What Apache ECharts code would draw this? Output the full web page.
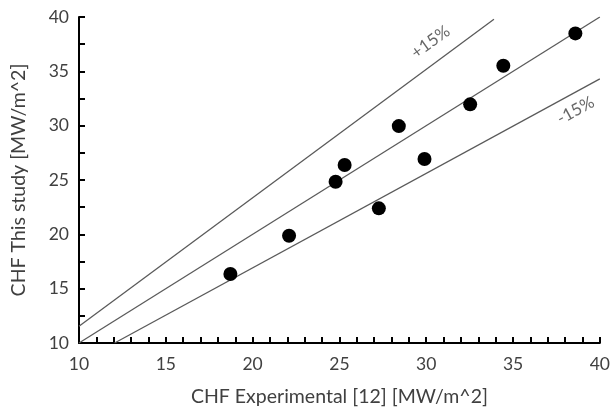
<!DOCTYPE html>
<html><head><meta charset="utf-8">
<script src="https://cdn.jsdelivr.net/npm/echarts@6/dist/echarts.min.js"></script>
<style>html,body{margin:0;padding:0;background:#fff}#c{width:613px;height:415px}</style>
</head><body><div id="c"></div>
<script>
const expX = [18.72, 22.1, 24.78, 25.3, 27.27, 28.42, 29.9, 32.53, 34.44, 38.59];
const studyY = [16.35, 19.87, 24.84, 26.38, 22.39, 29.96, 26.93, 31.96, 35.51, 38.49];
const lineEqual = [[10, 10], [40, 40]];
const linePlus = [[10, 11.55], [33.9, 39.8]];
const lineMinus = [[12.05, 10], [40, 34.3]];
const labelPlus = [[30.25, 37.7]];
const labelMinus = [[38.6, 31.4]];
const xTitle = 'CHF Experimental [12] [MW/m^2]';
const yTitle = 'CHF This study [MW/m^2]';

const font = 'Lato, "Open Sans", sans-serif';
const gray = '#404040';
const chart = echarts.init(document.getElementById('c'), null, {renderer: 'canvas'});
const lineStyle = {color: '#5a5a5a', width: 1.3};
function refLine(d) {
  return {type: 'line', data: d, symbol: 'none', lineStyle: lineStyle, silent: true, z: 2, animation: false};
}
function textMark(d, txt, rot) {
  return {type: 'scatter', data: d, symbolSize: 0, silent: true, animation: false,
    label: {show: true, position: 'inside', formatter: txt, rotate: rot, color: '#404040', fontSize: 17, fontFamily: font}};
}
const tickStyle = {color: '#000', width: 2};
chart.setOption({
  animation: false,
  grid: {left: 79, right: 12, top: 17, bottom: 72},
  xAxis: {
    type: 'value', min: 10, max: 40, interval: 5,
    name: xTitle, nameLocation: 'middle', nameGap: 44,
    nameTextStyle: {color: gray, fontSize: 19.5, fontFamily: font},
    axisLine: {show: true, onZero: false, lineStyle: {color: '#000', width: 2}},
    axisTick: {show: true, inside: true, length: 6, lineStyle: tickStyle},
    minorTick: {show: true, splitNumber: 5, length: 6, lineStyle: tickStyle},
    axisLabel: {color: gray, fontSize: 17.5, fontFamily: font, margin: 12},
    splitLine: {show: false}, minorSplitLine: {show: false}
  },
  yAxis: {
    type: 'value', min: 10, max: 40, interval: 5,
    name: yTitle, nameLocation: 'middle', nameGap: 50,
    nameTextStyle: {color: gray, fontSize: 19.5, fontFamily: font},
    axisLine: {show: true, onZero: false, lineStyle: {color: '#000', width: 2}},
    axisTick: {show: true, inside: true, length: 6, lineStyle: tickStyle},
    minorTick: {show: true, splitNumber: 2, length: 6, lineStyle: tickStyle},
    axisLabel: {color: gray, fontSize: 17.5, fontFamily: font, margin: 10},
    splitLine: {show: false}, minorSplitLine: {show: false}
  },
  series: [
    refLine(lineEqual), refLine(linePlus), refLine(lineMinus),
    {type: 'scatter', data: expX.map((x, i) => [x, studyY[i]]), symbol: 'circle', symbolSize: 14,
     itemStyle: {color: '#000', opacity: 1}, z: 5, animation: false},
    textMark(labelPlus, '+15%', 36), textMark(labelMinus, '-15%', 29)
  ]
});
</script></body></html>
